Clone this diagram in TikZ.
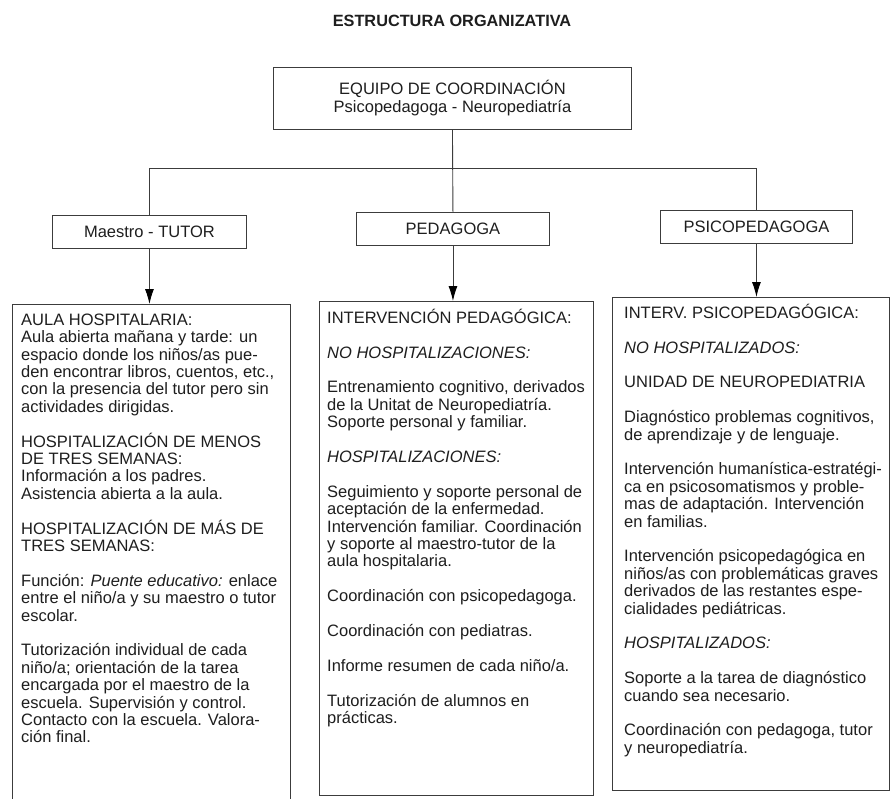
\documentclass[tikz,border=0pt]{standalone}
\usepackage{fontspec}
\setmainfont{Liberation Sans}
\usetikzlibrary{arrows.meta}
\definecolor{ink}{HTML}{1E1E1E}
\definecolor{rulegray}{HTML}{3C3C3C}
\newcommand\framebodyfont{\fontsize{16.5}{17.4}\selectfont\lineskiplimit=-30pt\relax\lineskip=0pt\relax}
\newcommand\headfont{\fontsize{16.5}{18}\selectfont}

\begin{document}
\begin{tikzpicture}[x=1pt,y=-1pt,
  frame/.style={draw=rulegray, line width=0.9pt, inner sep=0pt, anchor=north west},
  hdr/.style={frame, font=\headfont, text=ink, align=center},
  body/.style={anchor=north west, inner sep=0pt, align=left, text=ink, font=\framebodyfont},
  link/.style={draw=rulegray, line width=0.9pt},
  arrow/.style={link, -{Latex[length=15pt,width=9pt,fill=black,color=black]}}
]
\useasboundingbox[fill=white] (0,0) rectangle (891,798);

% title
\node[font=\bfseries\fontsize{16.3}{19}\selectfont, text=ink] (title) at (452,21) {ESTRUCTURA ORGANIZATIVA};

% coordination box and the three roles
\node[hdr, minimum width=358pt, minimum height=62pt] (coord) at (273,67)
  {EQUIPO DE COORDINACIÓN\\Psicopedagoga - Neuropediatría};
\node[hdr, minimum width=194pt, minimum height=33pt] (tutor) at (52,215) {Maestro - TUTOR};
\node[hdr, minimum width=193pt, minimum height=33pt] (peda) at (356,212) {PEDAGOGA};
\node[hdr, minimum width=192pt, minimum height=33pt] (psico) at (660,210) {PSICOPEDAGOGA};

% tree lines
\coordinate (bar) at (0,168);
\draw[link] (coord.south) -- (peda.north);
\draw[link] (tutor.north) -- (tutor.north |- bar) -- (psico.north |- bar) -- (psico.north);

% description frames
\node[frame, draw=none, minimum width=278pt, minimum height=494pt] (aula) at (12,304) {};
\draw[link] (aula.south west) -- (aula.north west) -- (aula.north east) -- (aula.south east);
\node[frame, minimum width=274pt, minimum height=494pt] (interv) at (319,301) {};
\node[frame, minimum width=277pt, minimum height=493pt] (psint) at (612,297) {};

% arrows into the frames
\draw[arrow] (tutor.south) -- (tutor.south |- aula.north);
\draw[arrow] (peda.south) -- (peda.south |- interv.north);
\draw[arrow] (psico.south) -- (psico.south |- psint.north);

% frame texts
\node[body] (aulatext) at (21,304) {\rule{0pt}{21pt}AULA HOSPITALARIA:\\
Aula abierta mañana y tarde: un\\
espacio donde los niños/as pue-\\
den encontrar libros, cuentos, etc.,\\
con la presencia del tutor pero sin\\
actividades dirigidas.\\[17.4pt]
HOSPITALIZACIÓN DE MENOS\\
DE TRES SEMANAS:\\
Información a los padres.\\
Asistencia abierta a la aula.\\[17.4pt]
HOSPITALIZACIÓN DE MÁS DE\\
TRES SEMANAS:\\[17.4pt]
Función: \textit{Puente educativo:} enlace\\
entre el niño/a y su maestro o tutor\\
escolar.\\[17.4pt]
Tutorización individual de cada\\
niño/a; orientación de la tarea\\
encargada por el maestro de la\\
escuela. Supervisión y control.\\
Contacto con la escuela. Valora-\\
ción final.};

\node[body] (intervtext) at (327,301) {\rule{0pt}{22pt}INTERVENCIÓN PEDAGÓGICA:\\[17.4pt]
\textit{NO HOSPITALIZACIONES:}\\[17.4pt]
Entrenamiento cognitivo, derivados\\
de la Unitat de Neuropediatría.\\
Soporte personal y familiar.\\[17.4pt]
\textit{HOSPITALIZACIONES:}\\[17.4pt]
Seguimiento y soporte personal de\\
aceptación de la enfermedad.\\
Intervención familiar. Coordinación\\
y soporte al maestro-tutor de la\\
aula hospitalaria.\\[17.4pt]
Coordinación con psicopedagoga.\\[17.4pt]
Coordinación con pediatras.\\[17.4pt]
Informe resumen de cada niño/a.\\[17.4pt]
Tutorización de alumnos en\\
prácticas.};

\node[body] (psinttext) at (624,297) {\rule{0pt}{21pt}INTERV. PSICOPEDAGÓGICA:\\[17.4pt]
\textit{NO HOSPITALIZADOS:}\\[17.4pt]
UNIDAD DE NEUROPEDIATRIA\\[17.4pt]
Diagnóstico problemas cognitivos,\\
de aprendizaje y de lenguaje.\\[17.4pt]
Intervención humanística-estratégi-\\
ca en psicosomatismos y proble-\\
mas de adaptación. Intervención\\
en familias.\\[17.4pt]
Intervención psicopedagógica en\\
niños/as con problemáticas graves\\
derivados de las restantes espe-\\
cialidades pediátricas.\\[17.4pt]
\textit{HOSPITALIZADOS:}\\[17.4pt]
Soporte a la tarea de diagnóstico\\
cuando sea necesario.\\[17.4pt]
Coordinación con pedagoga, tutor\\
y neuropediatría.};
\end{tikzpicture}
\end{document}
